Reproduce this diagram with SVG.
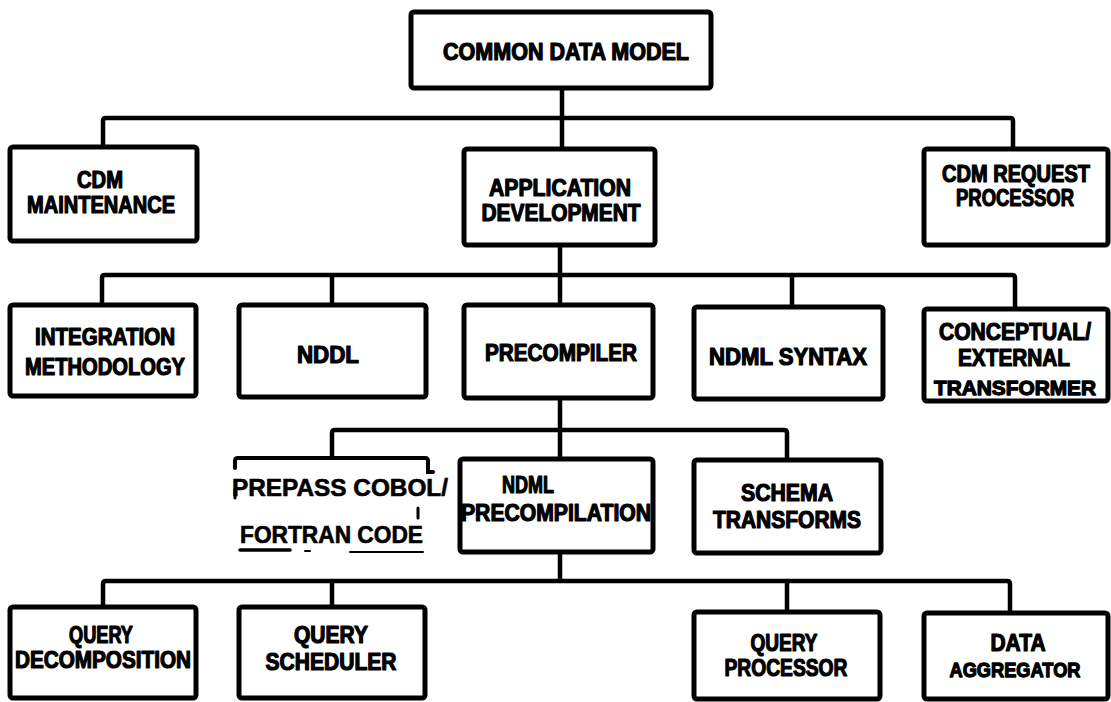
<svg xmlns="http://www.w3.org/2000/svg" width="1111" height="702" viewBox="0 0 1111 702">
  <style>
    .box { fill: #fff; stroke: #000; stroke-width: 5; }
    .wire { fill: none; stroke: #000; stroke-width: 4.5; stroke-linejoin: round; }
    .lbl { font-family: "Liberation Sans", Arial, sans-serif; font-weight: bold; font-size: 23px; fill: #000; stroke: #000; stroke-width: 1.2; stroke-linejoin: round; text-anchor: middle; }
    .lbl.tight { font-size: 21px; stroke-width: 1.3; }
    .typed { font-family: "Liberation Sans", Arial, sans-serif; font-weight: bold; font-size: 23px; fill: #000; stroke: #000; stroke-width: 0.6; }
    .trace { fill: none; stroke: #000; stroke-linecap: round; }
  </style>
  <rect width="1111" height="702" fill="#fff"/>

  <!-- tree connectors -->
  <g id="connectors">
    <path class="wire" d="M562,89 V149"/>
    <path class="wire" d="M103,147 V121 Q103,118 106,118 H1010 Q1013,118 1013,121 V149"/>
    <path class="wire" d="M560,247 V305"/>
    <path class="wire" d="M102,305 V278 Q102,275 105,275 H1012 Q1015,275 1015,278 V309"/>
    <path class="wire" d="M332,275 V305"/>
    <path class="wire" d="M792,275 V307"/>
    <path class="wire" d="M560,399 V459"/>
    <path class="wire" d="M332,458 V433 Q332,430 335,430 H784 Q787,430 787,433 V460"/>
    <path class="wire" d="M560,553 V581"/>
    <path class="wire" d="M103,607 V584 Q103,581 106,581 H1007 Q1010,581 1010,584 V613"/>
    <path class="wire" d="M332,581 V607"/>
    <path class="wire" d="M787,581 V612"/>
  </g>

  <g id="common-data-model">
    <rect class="box" x="411" y="12" width="300" height="76" rx="3"/>
    <text class="lbl" x="566" y="60" textLength="246" lengthAdjust="spacingAndGlyphs">COMMON DATA MODEL</text>
  </g>

  <g id="cdm-maintenance">
    <rect class="box" x="10" y="147" width="187" height="94" rx="3"/>
    <text class="lbl" x="100" y="188" textLength="46" lengthAdjust="spacingAndGlyphs">CDM</text>
    <text class="lbl" x="101" y="213" textLength="148" lengthAdjust="spacingAndGlyphs">MAINTENANCE</text>
  </g>

  <g id="application-development">
    <rect class="box" x="464" y="149" width="191" height="96" rx="3"/>
    <text class="lbl" x="560" y="196" textLength="142" lengthAdjust="spacingAndGlyphs">APPLICATION</text>
    <text class="lbl" x="561" y="221" textLength="159" lengthAdjust="spacingAndGlyphs">DEVELOPMENT</text>
  </g>

  <g id="cdm-request-processor">
    <rect class="box" x="924" y="149" width="184" height="96" rx="3"/>
    <text class="lbl" x="1016" y="182" textLength="148" lengthAdjust="spacingAndGlyphs">CDM REQUEST</text>
    <text class="lbl" x="1015" y="206" textLength="118" lengthAdjust="spacingAndGlyphs">PROCESSOR</text>
  </g>

  <g id="integration-methodology">
    <rect class="box" x="10" y="305" width="186" height="91" rx="3"/>
    <text class="lbl" x="105" y="345" textLength="140" lengthAdjust="spacingAndGlyphs">INTEGRATION</text>
    <text class="lbl" x="105" y="375" textLength="160" lengthAdjust="spacingAndGlyphs">METHODOLOGY</text>
  </g>

  <g id="nddl">
    <rect class="box" x="239" y="305" width="187" height="92" rx="3"/>
    <text class="lbl" x="328" y="363" textLength="62" lengthAdjust="spacingAndGlyphs">NDDL</text>
  </g>

  <g id="precompiler">
    <rect class="box" x="464" y="305" width="189" height="93" rx="3"/>
    <text class="lbl" x="561" y="361" textLength="152" lengthAdjust="spacingAndGlyphs">PRECOMPILER</text>
  </g>

  <g id="ndml-syntax">
    <rect class="box" x="694" y="307" width="189" height="92" rx="3"/>
    <text class="lbl" x="788" y="365" textLength="158" lengthAdjust="spacingAndGlyphs">NDML SYNTAX</text>
  </g>

  <g id="conceptual-external-transformer">
    <rect class="box" x="924" y="309" width="184" height="92" rx="3"/>
    <text class="lbl" x="1015" y="340" textLength="152" lengthAdjust="spacingAndGlyphs">CONCEPTUAL/</text>
    <text class="lbl" x="1014" y="366" textLength="112" lengthAdjust="spacingAndGlyphs">EXTERNAL</text>
    <text class="lbl tight" x="1015" y="395" textLength="162" lengthAdjust="spacingAndGlyphs">TRANSFORMER</text>
  </g>

  <!-- typed note with a broken outline around it -->
  <g id="prepass">
    <path class="trace" stroke-width="4" d="M235,468 V461 Q235,458 238,458 H425 Q428,458 428,461 V472 H433"/>
    <path class="trace" stroke-width="3" d="M235,489 V498 M418,508 V518"/>
    <path class="trace" stroke-width="3.5" d="M240,550 H290"/>
    <path class="trace" stroke-width="2" d="M305,551 H310 M350,552 H423"/>
    <text class="typed" x="232" y="496" textLength="216" lengthAdjust="spacingAndGlyphs">PREPASS COBOL/</text>
    <text class="typed" x="240" y="543" textLength="183" lengthAdjust="spacingAndGlyphs">FORTRAN  CODE</text>
  </g>

  <g id="ndml-precompilation">
    <rect class="box" x="460" y="459" width="193" height="93" rx="3"/>
    <text class="lbl" x="528" y="493" textLength="52" lengthAdjust="spacingAndGlyphs">NDML</text>
    <text class="lbl" x="556" y="521" textLength="190" lengthAdjust="spacingAndGlyphs">PRECOMPILATION</text>
  </g>

  <g id="schema-transforms">
    <rect class="box" x="694" y="460" width="187" height="93" rx="3"/>
    <text class="lbl" x="787" y="501" textLength="92" lengthAdjust="spacingAndGlyphs">SCHEMA</text>
    <text class="lbl" x="787" y="528" textLength="148" lengthAdjust="spacingAndGlyphs">TRANSFORMS</text>
  </g>

  <g id="query-decomposition">
    <rect class="box" x="10" y="607" width="186" height="91" rx="3"/>
    <text class="lbl" x="101" y="643" textLength="64" lengthAdjust="spacingAndGlyphs">QUERY</text>
    <text class="lbl" x="103" y="668" textLength="176" lengthAdjust="spacingAndGlyphs">DECOMPOSITION</text>
  </g>

  <g id="query-scheduler">
    <rect class="box" x="239" y="607" width="186" height="91" rx="3"/>
    <text class="lbl" x="331" y="643" textLength="74" lengthAdjust="spacingAndGlyphs">QUERY</text>
    <text class="lbl" x="331" y="670" textLength="131" lengthAdjust="spacingAndGlyphs">SCHEDULER</text>
  </g>

  <g id="query-processor">
    <rect class="box" x="694" y="612" width="186" height="87" rx="3"/>
    <text class="lbl" x="784" y="651" textLength="67" lengthAdjust="spacingAndGlyphs">QUERY</text>
    <text class="lbl" x="786" y="676" textLength="123" lengthAdjust="spacingAndGlyphs">PROCESSOR</text>
  </g>

  <g id="data-aggregator">
    <rect class="box" x="924" y="613" width="184" height="86" rx="3"/>
    <text class="lbl" x="1018" y="651" textLength="55" lengthAdjust="spacingAndGlyphs">DATA</text>
    <text class="lbl tight" x="1015" y="677" textLength="131" lengthAdjust="spacingAndGlyphs">AGGREGATOR</text>
  </g>
</svg>
